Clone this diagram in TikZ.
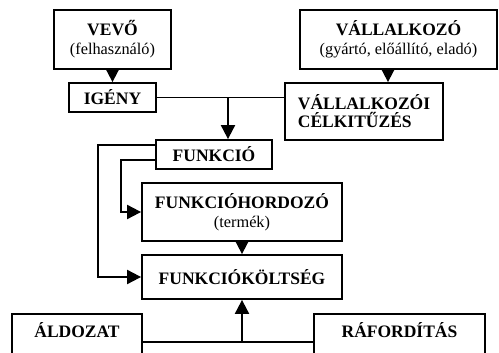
\documentclass[tikz,border=0pt]{standalone}
\usepackage{fontspec}
\setmainfont{Liberation Serif}
\usetikzlibrary{arrows.meta}
\begin{document}
\begin{tikzpicture}[x=1pt,y=-1pt,
  box/.style={draw, line width=1.8pt, inner sep=0pt, align=center,
    font=\fontsize{17.5}{19}\selectfont\bfseries},
  link/.style={line width=1.6pt},
  arr/.style={line width=2pt, -{Triangle[length=14pt,width=14pt]}},
]
\newcommand{\subtxt}[1]{{\mdseries\fontsize{16.3}{19}\selectfont #1}}
\useasboundingbox (0,0) rectangle (499,353);
\clip (0,0) rectangle (499,353);

% boxes
\node[box, minimum width=117, minimum height=59] (vevo) at (112.5,39.5)
  {VEVŐ\\\subtxt{(felhasználó)}};
\node[box, minimum width=197, minimum height=59] (vallalk) at (398.5,39.5)
  {VÁLLALKOZÓ\\\subtxt{(gyártó, előállító, eladó)}};
\node[box, minimum width=87, minimum height=29] (igeny) at (112.5,97.5) {IGÉNY};
\node[box, minimum width=158, minimum height=57, align=left,
  font=\fontsize{17.5}{18}\selectfont\bfseries] (celkit) at (364,111.5)
  {VÁLLALKOZÓI\\CÉLKITŰZÉS};
\node[box, minimum width=116, minimum height=29] (funkcio) at (214,154.5) {FUNKCIÓ};
\node[box, minimum width=200, minimum height=58] (hordozo) at (242,212)
  {FUNKCIÓHORDOZÓ\\\subtxt{(termék)}};
\node[box, minimum width=200, minimum height=44] (koltseg) at (242,277)
  {FUNKCIÓKÖLTSÉG};
\node[box, anchor=north, minimum width=130, inner ysep=11pt,
  text height=13pt, text depth=50pt] (aldozat) at (77,313) {ÁLDOZAT};
\node[box, anchor=north, minimum width=171, inner ysep=11pt,
  text height=13pt, text depth=50pt] (rafordit) at (399.5,313) {RÁFORDÍTÁS};

% connectors
\draw[arr] (vevo.south) -- (igeny.north);
\path (vallalk.south) ++(-10.5,0) coordinate (vdrop);
\draw[arr] (vdrop) -- (vdrop |- celkit.north);
\draw[link] (igeny.east) -- (igeny.east -| celkit.west);
\coordinate (split) at (228,97.5);
\draw[arr] (split) -- (split |- funkcio.north);
\coordinate (outer) at (98,145);
\draw[arr] (funkcio.west |- outer) -- (outer) |- (koltseg.west);
\coordinate (inner) at (121,160);
\draw[arr] (funkcio.west |- inner) -- (inner) |- (hordozo.west);
\draw[arr] (hordozo.south) -- (koltseg.north);
\coordinate (base) at (242,342);
\draw[link] (aldozat.east |- base) -- (rafordit.west |- base);
\draw[arr] (base) -- (koltseg.south);
\end{tikzpicture}
\end{document}
